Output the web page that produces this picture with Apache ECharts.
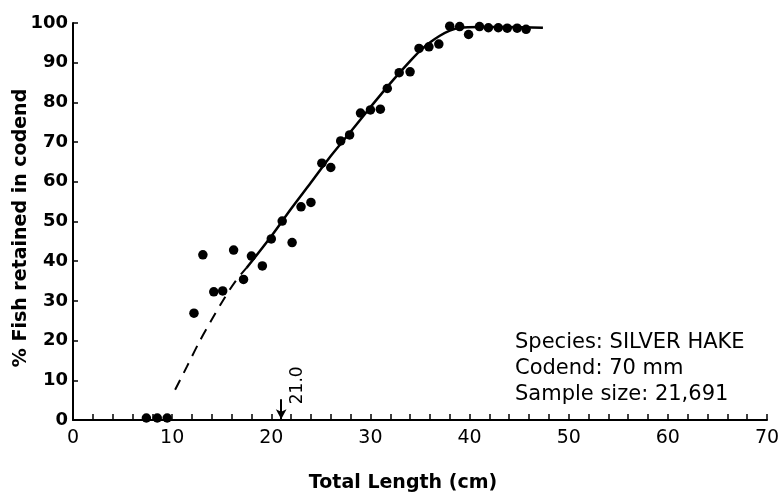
<!DOCTYPE html>
<html>
<head>
<meta charset="utf-8">
<script src="https://cdn.jsdelivr.net/npm/echarts@6/dist/echarts.min.js"></script>
<style>
html,body{margin:0;padding:0;background:#fff;}
#c{width:783px;height:494px;}
</style>
</head>
<body>
<div id="c"></div>
<script>
// Observed points: total length (cm) and % retained
const pointX = [7.4, 8.5, 9.5, 12.2, 13.1, 14.2, 15.1, 16.2, 17.2, 18.0, 19.1, 20.0, 21.1, 22.1, 23.0, 24.0, 25.1, 26.0, 27.0, 27.9, 29.0, 30.0, 31.0, 31.7, 32.9, 34.0, 34.9, 35.9, 36.9, 38.0, 39.0, 39.9, 41.0, 41.9, 42.9, 43.8, 44.8, 45.7];
const pointY = [0.5, 0.5, 0.5, 26.9, 41.6, 32.3, 32.5, 42.8, 35.4, 41.3, 38.8, 45.6, 50.1, 44.7, 53.7, 54.8, 64.7, 63.6, 70.3, 71.8, 77.3, 78.1, 78.3, 83.5, 87.5, 87.7, 93.6, 94.0, 94.7, 99.2, 99.1, 97.1, 99.1, 98.8, 98.8, 98.7, 98.7, 98.4];
// Fitted curve: dashed (extrapolated) part and solid part
const dashX = [10.3, 11.5, 12.7, 14.0, 15.3, 16.4, 17.5];
const dashY = [7.6, 13.5, 19.5, 25.3, 30.8, 35.0, 38.3];
const solidX = [17.5, 20, 22, 24, 26, 28, 30, 32, 34, 35, 36, 37, 38, 39, 41, 44, 47.4];
const solidY = [38.3, 46.3, 53.2, 59.8, 66.5, 72.6, 78.8, 84.8, 90.4, 93.0, 95.1, 96.8, 98.1, 98.8, 99.0, 99.0, 98.8];
// 50% retention length marker
const l50Value = 21.0;
const l50Label = '21.0';
const xTicks = [0, 10, 20, 30, 40, 50, 60, 70];
const yTicks = [0, 10, 20, 30, 40, 50, 60, 70, 80, 90, 100];
const infoLines = ['Species: SILVER HAKE', 'Codend: 70 mm', 'Sample size: 21,691'];
const xTitle = 'Total Length (cm)';
const yTitle = '% Fish retained in codend';

const zip = (a, b) => a.map((v, i) => [v, b[i]]);
const FONT = '"DejaVu Sans", "Liberation Sans", Arial, sans-serif';

const chart = echarts.init(document.getElementById('c'), null, {renderer: 'canvas'});
const option = {
  backgroundColor: '#fff',
  animation: false,
  grid: {left: 73, right: 16, top: 23, bottom: 74, containLabel: false},
  xAxis: {
    type: 'value', min: xTicks[0], max: xTicks[xTicks.length - 1], interval: 10,
    axisLine: {show: true, onZero: false, lineStyle: {color: '#000', width: 2}},
    axisTick: {show: true, inside: true, length: 6, lineStyle: {color: '#000', width: 1.5}},
    minorTick: {show: true, splitNumber: 5, length: 6, lineStyle: {color: '#000', width: 1.5}},
    splitLine: {show: false},
    axisLabel: {color: '#000', fontSize: 19, fontFamily: FONT, margin: 9}
  },
  yAxis: {
    type: 'value', min: yTicks[0], max: yTicks[yTicks.length - 1], interval: 10,
    axisLine: {show: true, onZero: false, lineStyle: {color: '#000', width: 2}},
    axisTick: {show: true, inside: true, length: 5, lineStyle: {color: '#000', width: 1.5}},
    splitLine: {show: false},
    axisLabel: {color: '#000', fontSize: 18, fontWeight: 'bold', fontFamily: FONT, margin: 5}
  },
  series: [
    {
      type: 'line', data: zip(dashX, dashY), smooth: 0.3, symbol: 'none',
      lineStyle: {color: '#000', width: 2, type: [11, 8]}, z: 2
    },
    {
      type: 'line', data: zip(solidX, solidY), smooth: 0.3, symbol: 'none',
      lineStyle: {color: '#000', width: 2.5}, z: 2,
      markLine: {
        silent: true, symbol: ['none', 'arrow'], symbolSize: [8, 10],
        lineStyle: {color: '#000', width: 2, type: 'solid'},
        label: {show: false},
        data: [[{coord: [l50Value, 5.2]}, {coord: [l50Value, 0.2]}]]
      }
    },
    {
      type: 'scatter', data: zip(pointX, pointY), symbol: 'circle', symbolSize: 9.5,
      itemStyle: {color: '#000', opacity: 1}, z: 3
    }
  ]
};
chart.setOption(option);

const p = chart.convertToPixel({gridIndex: 0}, [l50Value, 9]);
chart.setOption({
  graphic: [
    {
      type: 'text', x: p[0] + 16, y: p[1] + 1, rotation: Math.PI / 2,
      style: {text: l50Label, fontSize: 17, fontFamily: FONT, fill: '#000',
              align: 'center', verticalAlign: 'middle'}
    },
    {
      type: 'text', x: 403, y: 483,
      style: {text: xTitle, fontSize: 19, fontWeight: 'bold', fontFamily: FONT, fill: '#000',
              align: 'center', verticalAlign: 'middle'}
    },
    {
      type: 'text', x: 21, y: 228, rotation: Math.PI / 2,
      style: {text: yTitle, fontSize: 19, fontWeight: 'bold', fontFamily: FONT, fill: '#000',
              align: 'center', verticalAlign: 'middle'}
    },
    {
      type: 'text', left: 515, top: 330,
      style: {text: infoLines.join('\n'), fontSize: 21, lineHeight: 26, fontFamily: FONT, fill: '#000'}
    }
  ]
});
</script>
</body>
</html>
